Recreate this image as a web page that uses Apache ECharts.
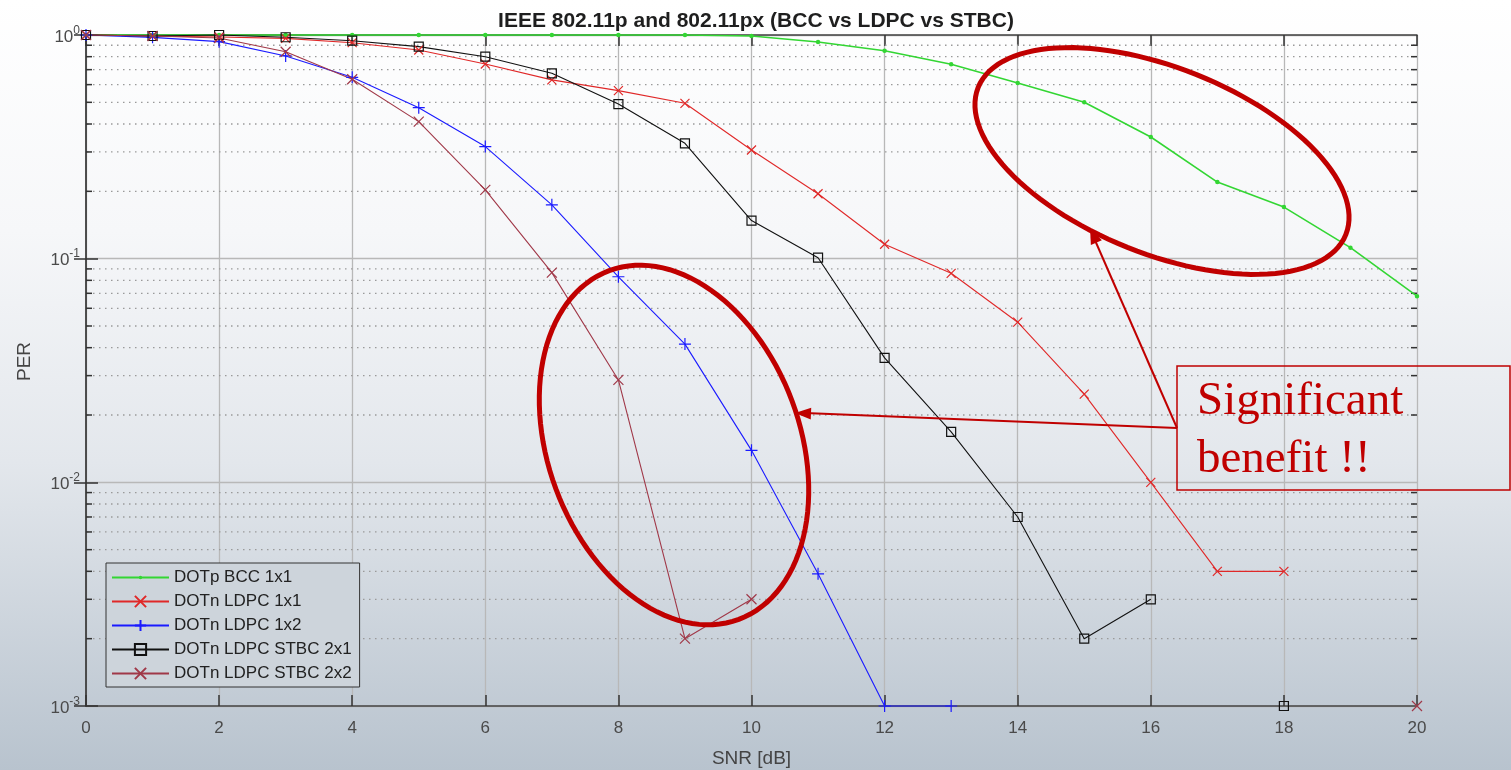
<!DOCTYPE html>
<html>
<head>
<meta charset="utf-8">
<script src="https://cdn.jsdelivr.net/npm/echarts@6/dist/echarts.min.js"></script>
<style>
html,body{margin:0;padding:0;width:1511px;height:770px;overflow:hidden;
background:linear-gradient(to bottom,#ffffff 0%,#f6f7f9 30%,#e3e7ec 60%,#b8c3ce 100%);}
#chart{width:1511px;height:770px;}
</style>
</head>
<body>
<div id="chart"></div>
<script>
// ---- data ----
const snr = [0,1,2,3,4,5,6,7,8,9,10,11,12,13,14,15,16,17,18,19,20];
const bcc1x1 = [1,1,1,1,1,1,1,1,1,1,0.99,0.93,0.85,0.74,0.61,0.50,0.35,0.22,0.17,0.112,0.068];
const ldpc1x1 = [1,0.99,0.98,0.966,0.924,0.857,0.742,0.63,0.564,0.495,0.306,0.195,0.116,0.086,0.052,0.0248,0.010,0.004,0.004,null,null];
const ldpc1x2 = [1,0.976,0.934,0.806,0.647,0.473,0.317,0.174,0.083,0.0415,0.0139,0.0039,0.001,0.001,null,null,null,null,null,null,null];
const stbc2x1 = [1,0.99,1.0,0.977,0.943,0.887,0.80,0.674,0.491,0.328,0.148,0.101,0.036,0.0168,0.007,0.002,0.003,null,0.001,null,null];
const stbc2x2 = [1,0.99,0.97,0.842,0.634,0.41,0.203,0.0866,0.0287,0.0020,0.0030,null,null,null,null,null,null,null,null,null,0.001];
const seriesNames = ['DOTp BCC 1x1','DOTn LDPC 1x1','DOTn LDPC 1x2','DOTn LDPC STBC 2x1','DOTn LDPC STBC 2x2'];
const xTicks = [0,2,4,6,8,10,12,14,16,18,20];
const minorTicks = [0.002,0.003,0.004,0.005,0.006,0.007,0.008,0.009,
                    0.02,0.03,0.04,0.05,0.06,0.07,0.08,0.09,
                    0.2,0.3,0.4,0.5,0.6,0.7,0.8,0.9];
const titleText = 'IEEE 802.11p and 802.11px (BCC vs LDPC vs STBC)';
const noteLines = ['Significant', 'benefit !!'];

function pairs(ys){ return snr.map((x,i)=>[x, ys[i]]); }

const XPATH = 'path://M0,0L10,10M10,0L0,10';
const PLUS = 'path://M5,0L5,10M0,5L10,5';
// small dot centred in a 10x10 box (corner points only fix the bounding box)
const DOT = 'path://M0,0L0.001,0M10,10L10.001,10M5,3.5A1.5,1.5,0,1,1,5,6.5A1.5,1.5,0,1,1,5,3.5Z';
const FONT = '"Liberation Sans", Arial, sans-serif';

const chart = echarts.init(document.getElementById('chart'), null, {renderer:'canvas'});

function lineSeries(name, ys, color, symbol, size, lw, fill, bw){
  return {
    name, type:'line', data: pairs(ys), z: 5,
    symbol, symbolSize: size, showSymbol: true, showAllSymbol: true,
    connectNulls: false, clip: false, animation: false,
    lineStyle: {color, width: lw},
    itemStyle: {color: fill, borderColor: color, borderWidth: bw},
    emphasis: {disabled: true}
  };
}

const option = {
  animation: false,
  backgroundColor: 'transparent',
  title: {
    text: titleText, left: 751, top: 6, textAlign: 'center',
    textStyle: {fontFamily: FONT, fontSize: 21, fontWeight: 'bold', color: '#1e1e1e'}
  },
  grid: {left: 86, right: 94, top: 35, bottom: 64, containLabel: false, outerBoundsMode: 'none'},
  legend: {
    orient: 'vertical', left: 106, top: 563,
    data: seriesNames,
    itemWidth: 57, itemHeight: 14, itemGap: 7,
    padding: [6, 8, 5, 5],
    borderColor: '#333', borderWidth: 1,
    backgroundColor: '#cdd4db',
    textStyle: {fontFamily: FONT, fontSize: 17, color: '#222', lineHeight: 17},
    selectedMode: false
  },
  xAxis: [{
    type: 'value', min: 0, max: 20, interval: 2,
    name: 'SNR [dB]', nameLocation: 'middle', nameGap: 43,
    nameTextStyle: {fontFamily: FONT, fontSize: 19, color: '#444'},
    axisLine: {show: true, onZero: false, lineStyle: {color: '#444', width: 1.5}},
    axisTick: {show: true, inside: true, length: 11, lineStyle: {color: '#333', width: 1.5}},
    axisLabel: {fontFamily: FONT, fontSize: 17, color: '#4a4a4a', margin: 14},
    splitLine: {show: true, lineStyle: {color: '#b8b8b8', width: 1.3}}
  },{
    type: 'value', min: 0, max: 20, interval: 2, position: 'top',
    axisLine: {show: true, onZero: false, lineStyle: {color: '#444', width: 1.5}},
    axisTick: {show: true, inside: true, length: 11, lineStyle: {color: '#333', width: 1.5}},
    axisLabel: {show: false}, splitLine: {show: false}
  }],
  yAxis: [{
    type: 'log', logBase: 10, min: 0.001, max: 1, interval: 1,
    name: 'PER', nameLocation: 'middle', nameGap: 52, nameRotate: 90,
    nameTextStyle: {fontFamily: FONT, fontSize: 19, color: '#444', padding: [0, 0, 0, 18]},
    axisLine: {show: true, lineStyle: {color: '#444', width: 1.5}},
    axisTick: {show: true, inside: true, length: 12, lineStyle: {color: '#333', width: 1.5}},
    axisLabel: {
      margin: 6,
      formatter: function(v){ const e = Math.round(Math.log10(v)); return '{b|10}{s|' + e + '}'; },
      rich: {
        b: {fontFamily: FONT, fontSize: 17, color: '#4a4a4a', verticalAlign: 'bottom'},
        s: {fontFamily: FONT, fontSize: 12, color: '#4a4a4a', verticalAlign: 'bottom', padding: [0,0,9,0]}
      }
    },
    splitLine: {show: true, lineStyle: {color: '#b8b8b8', width: 1.3}}
  },{
    type: 'log', logBase: 10, min: 0.001, max: 1, interval: 1, position: 'right',
    axisLine: {show: true, lineStyle: {color: '#444', width: 1.5}},
    axisTick: {show: true, inside: true, length: 12, lineStyle: {color: '#333', width: 1.5}},
    axisLabel: {show: false}, splitLine: {show: false}
  }],
  series: [
    {
      name: 'minor', type: 'custom', z: 1, silent: true, clip: false,
      data: minorTicks.map(v => [0, v]),
      renderItem: function(params, api){
        const v = api.value(1);
        const p1 = api.coord([0, v]);
        const p2 = api.coord([20, v]);
        return {type: 'group', children: [
          {type: 'line', shape: {x1: p1[0]+1, y1: p1[1], x2: p2[0]-1, y2: p2[1]},
           style: {stroke: '#9a9a9a', lineWidth: 1.3, lineDash: [1.5, 4.5]}},
          {type: 'line', shape: {x1: p1[0], y1: p1[1], x2: p1[0]+6, y2: p1[1]},
           style: {stroke: '#333', lineWidth: 1.5}},
          {type: 'line', shape: {x1: p2[0]-6, y1: p2[1], x2: p2[0], y2: p2[1]},
           style: {stroke: '#333', lineWidth: 1.5}}
        ]};
      }
    },
    lineSeries(seriesNames[0], bcc1x1, '#33d633', DOT, 15, 1.6, '#33d633', 0),
    lineSeries(seriesNames[1], ldpc1x1, '#e02828', XPATH, 9, 1.1, '#e02828', 1.2),
    lineSeries(seriesNames[2], ldpc1x2, '#1a1aff', PLUS, 12, 1.1, '#1a1aff', 1.2),
    lineSeries(seriesNames[3], stbc2x1, '#111111', 'rect', 9, 1.1, 'rgba(0,0,0,0)', 1.2),
    lineSeries(seriesNames[4], stbc2x2, '#a03848', XPATH, 10, 1.1, '#a03848', 1.2)
  ]
};
chart.setOption(option);

// ---- annotations (hand-drawn overlay, pixel space) ----
function ellipsePts(cx, cy, a, b, deg){
  const t = deg * Math.PI / 180, pts = [];
  for (let i = 0; i < 120; i++){
    const u = i / 120 * Math.PI * 2;
    const ex = a * Math.cos(u), ey = b * Math.sin(u);
    pts.push([cx + ex*Math.cos(t) - ey*Math.sin(t), cy + ex*Math.sin(t) + ey*Math.cos(t)]);
  }
  return pts;
}
function arrowHead(tip, tail, len, half){
  const dx = tail[0]-tip[0], dy = tail[1]-tip[1], d = Math.hypot(dx,dy);
  const ux = dx/d, uy = dy/d;
  const bx = tip[0]+ux*len, by = tip[1]+uy*len;
  return [tip, [bx - uy*half, by + ux*half], [bx + uy*half, by - ux*half]];
}
const RED = '#c00000';
const tail = [1177, 428];
const tip1 = [795, 413], tip2 = [1090, 228];
chart.setOption({
  graphic: [
    {type:'polygon', z: 100, shape:{points: ellipsePts(1162, 161, 198, 93, 21.8)},
     style:{fill:'none', stroke: RED, lineWidth: 5}},
    {type:'polygon', z: 100, shape:{points: ellipsePts(674, 445, 186, 126, 69.6)},
     style:{fill:'none', stroke: RED, lineWidth: 5}},
    {type:'line', z: 100, shape:{x1: tail[0], y1: tail[1], x2: tip1[0]+10, y2: tip1[1]},
     style:{stroke: RED, lineWidth: 2}},
    {type:'polygon', z: 100, shape:{points: arrowHead(tip1, tail, 16, 6)}, style:{fill: RED}},
    {type:'line', z: 100, shape:{x1: tail[0], y1: tail[1], x2: tip2[0]+4, y2: tip2[1]+10},
     style:{stroke: RED, lineWidth: 2}},
    {type:'polygon', z: 100, shape:{points: arrowHead(tip2, tail, 16, 6)}, style:{fill: RED}},
    {type:'rect', z: 100, shape:{x: 1177, y: 366, width: 333, height: 124},
     style:{fill:'none', stroke: RED, lineWidth: 1.5}},
    {type:'text', z: 101, x: 1197, y: 402,
     style:{text: noteLines[0], fill: RED, font: '47px "Liberation Serif", "Times New Roman", serif', verticalAlign: 'middle'}},
    {type:'text', z: 101, x: 1197, y: 460,
     style:{text: noteLines[1], fill: RED, font: '47px "Liberation Serif", "Times New Roman", serif', verticalAlign: 'middle'}}
  ]
});
</script>
</body>
</html>
